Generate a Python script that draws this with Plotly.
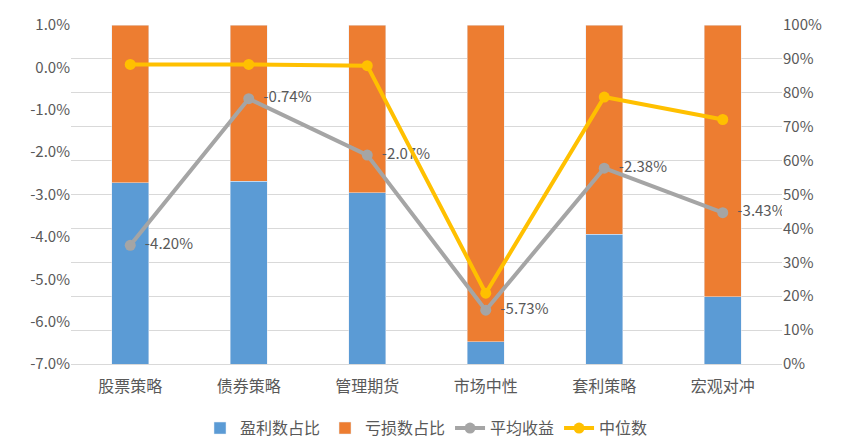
"""Strategy win/loss share with average and median returns."""
import plotly.graph_objects as go

categories = ["股票策略", "债券策略", "管理期货", "市场中性", "套利策略", "宏观对冲"]
win_share = [0.534, 0.539, 0.505, 0.066, 0.383, 0.198]
loss_share = [round(1 - w, 3) for w in win_share]
avg_return = [-0.0420, -0.0074, -0.0207, -0.0573, -0.0238, -0.0343]
median_return = [0.0007, 0.0007, 0.0004, -0.0533, -0.0070, -0.0123]

left_ticks = [0.01, 0.0, -0.01, -0.02, -0.03, -0.04, -0.05, -0.06, -0.07]
left_labels = ["1.0%", "0.0%", "-1.0%", "-2.0%", "-3.0%", "-4.0%", "-5.0%", "-6.0%", "-7.0%"]

BLUE = "#5B9BD5"
ORANGE = "#ED7D31"
GRAY = "#A5A5A5"
YELLOW = "#FFC000"
TEXT = "#595959"
FONT = "Noto Sans CJK SC, Noto Sans, Arial"

fig = go.Figure()
fig.add_trace(go.Bar(
    x=categories, y=win_share, name="盈利数占比",
    marker_color=BLUE, yaxis="y",
))
fig.add_trace(go.Bar(
    x=categories, y=loss_share, name="亏损数占比",
    marker_color=ORANGE, yaxis="y",
))
fig.add_trace(go.Scatter(
    x=categories, y=avg_return, name="平均收益", yaxis="y2",
    mode="lines+markers+text",
    line=dict(color=GRAY, width=4),
    marker=dict(size=11, color=GRAY),
    # leading spaces push the label away from the marker
    text=[f"  {v * 100:.2f}%" for v in avg_return],
    textposition="middle right",
    textfont=dict(size=15, color=TEXT, family=FONT),
))
fig.add_trace(go.Scatter(
    x=categories, y=median_return, name="中位数", yaxis="y2",
    mode="lines+markers",
    line=dict(color=YELLOW, width=4),
    marker=dict(size=11, color=YELLOW),
))

# page body has an 8px margin, so margins are offset by that amount
fig.update_layout(
    width=850, height=446,
    barmode="stack", bargap=0.69,
    plot_bgcolor="white", paper_bgcolor="white",
    font=dict(family=FONT, size=14, color=TEXT),
    margin=dict(l=63, r=76, t=17, b=90),
    showlegend=True,
    legend=dict(
        orientation="h", x=0.5, xanchor="center",
        yref="container", y=0.058, yanchor="middle",
        font=dict(size=16, color=TEXT), traceorder="normal",
    ),
    xaxis=dict(
        showgrid=False, showline=True, linecolor="#D9D9D9", linewidth=1,
        ticks="outside", ticklen=8, tickcolor="rgba(0,0,0,0)",
        tickfont=dict(size=16, color=TEXT), automargin=False,
    ),
    yaxis=dict(
        side="right", range=[0, 1], dtick=0.1, tickformat=".0%",
        showgrid=True, gridcolor="#D9D9D9", gridwidth=1, zeroline=False,
        tickfont=dict(size=15, color=TEXT), automargin=False,
    ),
    yaxis2=dict(
        side="left", overlaying="y", range=[-0.07, 0.01],
        tickvals=left_ticks, ticktext=left_labels,
        showgrid=False, zeroline=False,
        tickfont=dict(size=15, color=TEXT), automargin=False,
    ),
)

fig.write_html("out.html")
